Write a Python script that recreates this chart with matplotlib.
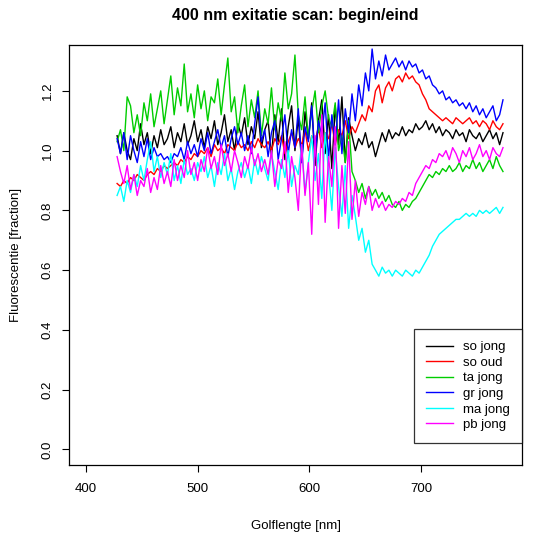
import matplotlib.pyplot as plt
import numpy as np

plt.rcParams['font.family'] = ['Liberation Sans', 'DejaVu Sans']

# wavelength grid (nm), 3 nm steps
wavelength = np.arange(428, 774, 3)

so_jong = [
    1.05, 0.99, 1.06, 1.00, 0.97, 1.04, 1.00, 1.09, 1.02, 1.06, 0.99, 1.05, 1.01, 1.07, 1.02,
    1.04, 1.08, 1.01, 1.06, 1.03, 1.09, 1.02, 1.05, 1.10, 1.03,
    1.07, 1.01, 1.08, 1.04, 1.10, 1.02, 1.06, 1.12, 1.03, 1.07, 1.00, 1.09, 1.05, 1.11, 1.02,
    1.08, 1.04, 1.13, 1.01, 1.07,
    1.10, 0.98, 1.12, 1.03, 1.14, 0.97, 1.08, 1.15, 1.00, 1.11, 0.96, 1.13, 1.04, 1.16, 0.95,
    1.10, 1.17, 0.99, 1.12, 0.94, 1.15, 1.02, 1.18, 0.96, 1.11, 1.05,
    1.00, 1.04, 1.02, 1.06, 1.01, 1.03, 0.98,
    1.02, 1.06, 1.03, 1.07, 1.04, 1.06, 1.05, 1.08, 1.05, 1.07, 1.06, 1.09, 1.07,
    1.08, 1.10, 1.07, 1.09, 1.06, 1.08, 1.05, 1.07,
    1.06, 1.04, 1.07, 1.05, 1.06, 1.03, 1.07, 1.05, 1.04, 1.06, 1.03, 1.05, 1.07, 1.04, 1.06,
    1.02, 1.06,
]

so_oud = [
    0.89, 0.88, 0.90, 0.89, 0.91, 0.90, 0.92, 0.91, 0.90, 0.92, 0.93, 0.92, 0.94, 0.93, 0.95,
    0.94, 0.95, 0.96, 0.95, 0.97, 0.96, 0.98, 0.97, 0.99, 0.98,
    1.00, 0.99, 1.01, 0.98, 1.02, 1.00, 1.01, 0.99, 1.02, 1.01, 1.00, 1.03, 1.01, 1.02, 1.00,
    1.03, 1.01, 1.04, 1.02, 1.01,
    1.03, 1.00, 1.04, 1.02, 1.05, 0.99, 1.03, 1.06, 1.01, 1.04, 1.02, 1.07, 1.00, 1.05, 1.03,
    1.08, 1.01, 1.06, 1.04, 1.09, 1.02, 1.07, 1.05, 1.10, 1.04, 1.08,
    1.06, 1.09, 1.12, 1.10, 1.15, 1.13, 1.20,
    1.22, 1.16, 1.21, 1.23, 1.20, 1.24, 1.25, 1.23, 1.26, 1.24, 1.25, 1.23, 1.22,
    1.19, 1.17, 1.14, 1.13, 1.12, 1.11, 1.10, 1.11,
    1.10, 1.09, 1.11, 1.10, 1.09, 1.10, 1.11, 1.09, 1.10, 1.08, 1.10, 1.09, 1.07, 1.10, 1.08,
    1.07, 1.09,
]

ta_jong = [
    1.03, 1.07, 1.00, 1.18, 1.15, 1.06, 1.12, 1.05, 1.16, 1.10, 1.19, 1.08, 1.14, 1.20, 1.09,
    1.17, 1.25, 1.12, 1.21, 1.15, 1.29, 1.13, 1.19, 1.11, 1.22,
    1.14, 1.20, 1.10, 1.18, 1.16, 1.24, 1.12, 1.22, 1.31, 1.13, 1.18, 1.06, 1.15, 1.22, 1.08,
    1.17, 1.11, 1.20, 1.05, 1.14,
    1.09, 1.21, 1.07, 1.16, 1.10, 1.26, 1.14, 1.19, 1.32, 1.12, 1.07, 1.18, 1.04, 1.13, 1.20,
    1.06, 1.15, 1.20, 1.11, 1.08, 1.16, 1.00, 1.05, 0.96, 1.10, 0.93,
    0.90, 0.86, 0.89, 0.84, 0.88, 0.85, 0.87,
    0.84, 0.86, 0.83, 0.85, 0.82, 0.81, 0.83, 0.80, 0.82, 0.81, 0.83, 0.84, 0.86,
    0.88, 0.90, 0.92, 0.91, 0.93, 0.92, 0.94, 0.93,
    0.95, 0.93, 0.94, 0.96, 0.93, 0.95, 0.94, 0.97, 0.94, 0.96, 0.93, 0.95, 0.97, 0.94, 0.98,
    0.95, 0.93,
]

gr_jong = [
    1.04, 0.99, 1.06, 0.97, 1.05, 1.00, 0.96, 1.03, 0.98, 1.04, 0.97, 1.01, 0.98, 0.99, 0.97,
    0.98, 0.96, 0.99, 0.98, 1.01, 0.97, 1.03, 0.99, 1.02, 0.98,
    1.04, 1.00, 1.06, 0.99, 1.03, 1.07, 1.01, 1.05, 0.98, 1.04, 1.08, 1.02, 1.06, 1.00, 1.05,
    0.99, 1.09, 1.18, 1.03, 1.07,
    0.98, 1.06, 1.10, 0.97, 1.04, 1.12, 0.99, 1.07, 1.01, 1.14, 0.96, 1.08, 1.03, 1.15, 0.98,
    1.10, 1.05, 1.16, 0.97, 1.12, 1.02, 1.17, 0.99, 1.14, 1.06, 1.19,
    1.10, 1.22, 1.15, 1.26, 1.20, 1.34, 1.24,
    1.30, 1.25, 1.32, 1.27, 1.29, 1.31, 1.28, 1.30, 1.27, 1.30, 1.28, 1.29, 1.26,
    1.27, 1.24, 1.25, 1.22, 1.21, 1.19, 1.20, 1.17,
    1.18, 1.16, 1.17, 1.15, 1.16, 1.14, 1.16, 1.13, 1.15, 1.12, 1.14, 1.11, 1.13, 1.15, 1.10,
    1.12, 1.17,
]

ma_jong = [
    0.85, 0.88, 0.83, 0.90, 0.86, 0.92, 0.88, 0.95, 0.90, 0.97, 1.03, 0.93, 0.98, 0.91, 0.96,
    0.92, 0.99, 0.90, 0.95, 0.89, 0.97, 0.92, 0.94, 0.90, 0.96,
    0.93, 0.98, 0.91, 0.95, 0.88, 0.96, 0.92, 0.99, 0.90, 0.94, 0.87, 0.93, 0.96, 0.91, 0.95,
    0.89, 0.97, 0.92, 0.98, 0.94,
    0.90, 0.99, 0.93, 0.87, 0.97, 0.91, 1.00, 0.88, 0.95, 0.92, 1.02, 0.86, 0.96, 1.05, 0.90,
    0.99, 0.84, 1.06, 0.93, 0.80, 1.01, 0.88, 0.78, 0.95, 0.74, 0.85,
    0.78, 0.70, 0.74, 0.66, 0.70, 0.62, 0.60,
    0.58, 0.61, 0.59, 0.60, 0.58, 0.60, 0.59, 0.58, 0.60, 0.59, 0.58, 0.60, 0.59,
    0.61, 0.63, 0.65, 0.68, 0.70, 0.72, 0.73, 0.74,
    0.75, 0.76, 0.77, 0.77, 0.78, 0.79, 0.78, 0.79, 0.78, 0.80, 0.79, 0.80, 0.79, 0.80, 0.81,
    0.79, 0.81,
]

pb_jong = [
    0.98, 0.93, 0.89, 0.95, 0.87, 0.92, 0.85, 0.90, 0.88, 0.94, 0.86, 0.91, 0.87, 0.95, 0.89,
    0.93, 0.88, 0.97, 0.90, 0.95, 0.91, 1.00, 0.92, 0.96, 0.90,
    0.97, 0.93, 1.01, 0.94, 0.98, 0.92, 1.02, 0.95, 0.99, 0.93, 1.00, 0.96, 0.91, 0.98, 0.94,
    1.01, 0.95, 0.99, 0.93, 0.97,
    0.92, 1.00, 0.88, 0.97, 0.94, 1.03, 0.86, 0.98, 0.91, 0.80, 1.02, 0.85, 0.96, 0.72, 1.05,
    0.82, 1.12, 0.76, 0.98, 0.88, 1.08, 0.74, 0.95, 0.79, 1.03, 0.77,
    0.90, 0.78, 0.86, 0.82, 0.88, 0.80, 0.84,
    0.81, 0.83, 0.80, 0.82, 0.81, 0.83, 0.82, 0.84, 0.83, 0.86, 0.85, 0.89, 0.91,
    0.93, 0.95, 0.94, 0.97, 0.96, 0.99, 0.98, 1.00,
    0.97, 1.01, 0.99, 0.96, 1.00, 0.98, 1.01, 0.97, 0.99, 1.02, 0.98, 1.00, 0.97, 1.01, 0.99,
    0.98, 1.01,
]

labels = ['so jong', 'so oud', 'ta jong', 'gr jong', 'ma jong', 'pb jong']
series = [so_jong, so_oud, ta_jong, gr_jong, ma_jong, pb_jong]
colors = ['black', '#FF0000', '#00CD00', '#0000FF', '#00FFFF', '#FF00FF']

fig = plt.figure(figsize=(5.35, 5.36), dpi=100)
ax = fig.add_axes([0.129, 0.1325, 0.8467, 0.7827])

for vals, col, lab in zip(series, colors, labels):
    ax.plot(wavelength, vals, color=col, lw=1.0, label=lab)

ax.set_xlim(385, 790)
ax.set_ylim(-0.052, 1.352)
ax.set_xticks([400, 500, 600, 700])
ax.set_yticks([0.0, 0.2, 0.4, 0.6, 0.8, 1.0, 1.2])
ax.set_yticklabels(['0.0', '0.2', '0.4', '0.6', '0.8', '1.0', '1.2'],
                   rotation=90, va='center')
ax.tick_params(direction='out', length=5, width=0.8, labelsize=9.5, pad=8)
ax.tick_params(axis='y', pad=6)
for s in ax.spines.values():
    s.set_linewidth(0.9)

ax.set_title('400 nm exitatie scan: begin/eind', fontsize=11.5, fontweight='bold', pad=18)
ax.set_xlabel('Golflengte [nm]', fontsize=9.5, labelpad=18)
ax.set_ylabel('Fluorescentie [fraction]', fontsize=9.5, labelpad=14)

leg = ax.legend(loc='upper right', bbox_to_anchor=(1.0, 0.3235), fontsize=9.5,
                frameon=True, fancybox=False, borderaxespad=0, handlelength=2.0,
                handletextpad=0.8, labelspacing=0.25, borderpad=0.9)
leg.get_frame().set_edgecolor('black')
leg.get_frame().set_linewidth(0.9)

fig.savefig('out.png', dpi=100)
